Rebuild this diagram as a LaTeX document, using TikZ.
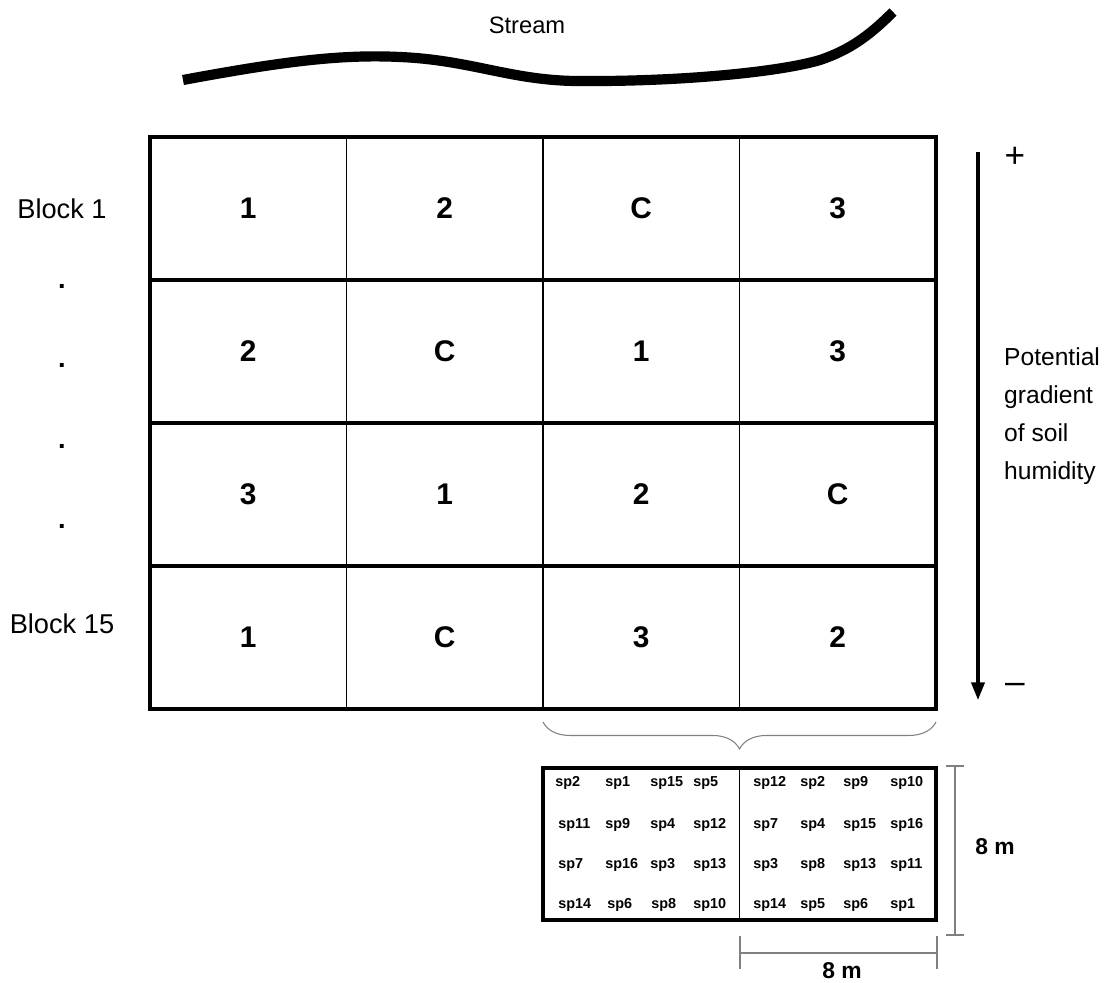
\documentclass[tikz,border=0pt]{standalone}
\usepackage{fontspec}
\setmainfont{Liberation Sans}
\usetikzlibrary{arrows.meta,decorations.pathreplacing}

\begin{document}
\begin{tikzpicture}[
x=0.02cm,
y=-0.02cm,
every node/.style={
font=\fontsize{15.5}{18}\selectfont
},
cell/.style={
draw,
line width=0.6pt,
outer sep=0pt,
minimum width=3.93cm,
minimum height=2.86cm,
font=\fontsize{17}{20}\selectfont\bfseries
},
sp/.style={
anchor=west,
inner sep=0pt,
font=\fontsize{8.2}{9}\selectfont\bfseries
},
scalebar/.style={draw=gray, line width=0.6pt},
sizelabel/.style={font=\fontsize{13}{15}\selectfont\bfseries}
]
\useasboundingbox (0,0) rectangle (1107,983);

% stream
\node (stream) [font=\fontsize{13.5}{16}\selectfont] at (527,25) {Stream};
\draw[line width=5.8pt] (183,80) .. controls (280,62) and (340,54) .. (400,57)
  .. controls (470,60) and (510,80) .. (575,81)
  .. controls (680,82) and (780,72) .. (820,60)
  .. controls (850,50) and (870,35) .. (893,12);

% blocks
\node (c11) [cell] at (248.25,208.5) {1};
\node (c12) [cell] at (444.75,208.5) {2};
\node (c13) [cell] at (641.25,208.5) {C};
\node (c14) [cell] at (837.75,208.5) {3};
\node (c21) [cell] at (248.25,351.5) {2};
\node (c22) [cell] at (444.75,351.5) {C};
\node (c23) [cell] at (641.25,351.5) {1};
\node (c24) [cell] at (837.75,351.5) {3};
\node (c31) [cell] at (248.25,494.5) {3};
\node (c32) [cell] at (444.75,494.5) {1};
\node (c33) [cell] at (641.25,494.5) {2};
\node (c34) [cell] at (837.75,494.5) {C};
\node (c41) [cell] at (248.25,637.5) {1};
\node (c42) [cell] at (444.75,637.5) {C};
\node (c43) [cell] at (641.25,637.5) {3};
\node (c44) [cell] at (837.75,637.5) {2};
\draw[line width=1.9pt] (c11.north west) rectangle (c44.south east);
\draw[line width=2.5pt] (c21.north west) -- (c24.north east);
\draw[line width=2.5pt] (c31.north west) -- (c34.north east);
\draw[line width=2.5pt] (c41.north west) -- (c44.north east);

\node (block1) at (62,209) {Block 1};
\node (dot1) at (62,286) {\bfseries .};
\node (dot2) at (62,365) {\bfseries .};
\node (dot3) at (62,446) {\bfseries .};
\node (dot4) at (62,526) {\bfseries .};
\node (block15) at (62,624) {Block 15};

% humidity gradient
\node (plus) at (1015,157) {\fontsize{20}{22}\selectfont +};
\node (minus) at (1015,688) {\fontsize{20}{22}\selectfont –};
\draw[line width=1.8pt, -{Triangle[length=10pt,width=7.5pt]}] (978,152) -- (978,700);
\node (gradient) [anchor=west, align=left, font=\fontsize{14}{21.5}\selectfont] at (998,416) {Potential\\gradient\\of soil\\humidity};

% subplot
\draw[draw=gray, line width=0.6pt, decorate, decoration={brace, amplitude=0.54cm}]
([yshift=-0.26cm]c44.south east) -- ([yshift=-0.26cm]c43.south west);
\node (subplot) [draw, line width=2pt, outer sep=0pt, minimum width=7.86cm, minimum height=3.04cm] at (739.5,844) {};
\draw[line width=0.8pt] (subplot.north) -- (subplot.south);

\node (p11) [sp] at (555,783) {sp2};
\node (p12) [sp] at (605,783) {sp1};
\node (p13) [sp] at (650,783) {sp15};
\node (p14) [sp] at (693,783) {sp5};
\node (p15) [sp] at (753,783) {sp12};
\node (p16) [sp] at (800,783) {sp2};
\node (p17) [sp] at (843,783) {sp9};
\node (p18) [sp] at (890,783) {sp10};
\node (p21) [sp] at (558,825) {sp11};
\node (p22) [sp] at (605,825) {sp9};
\node (p23) [sp] at (650,825) {sp4};
\node (p24) [sp] at (693,825) {sp12};
\node (p25) [sp] at (753,825) {sp7};
\node (p26) [sp] at (800,825) {sp4};
\node (p27) [sp] at (843,825) {sp15};
\node (p28) [sp] at (890,825) {sp16};
\node (p31) [sp] at (558,865) {sp7};
\node (p32) [sp] at (605,865) {sp16};
\node (p33) [sp] at (650,865) {sp3};
\node (p34) [sp] at (693,865) {sp13};
\node (p35) [sp] at (753,865) {sp3};
\node (p36) [sp] at (800,865) {sp8};
\node (p37) [sp] at (843,865) {sp13};
\node (p38) [sp] at (890,865) {sp11};
\node (p41) [sp] at (558,905) {sp14};
\node (p42) [sp] at (607,905) {sp6};
\node (p43) [sp] at (651,905) {sp8};
\node (p44) [sp] at (693,905) {sp10};
\node (p45) [sp] at (753,905) {sp14};
\node (p46) [sp] at (800,905) {sp5};
\node (p47) [sp] at (843,905) {sp6};
\node (p48) [sp] at (890,905) {sp1};

% scale bars
\draw[scalebar] (946,766) -- (964,766) (955,766) -- (955,935) (946,935) -- (964,935);
\draw[scalebar] (740,936) -- (740,969) (740,953) -- (937,953) (937,936) -- (937,969);
\node (vsize) [sizelabel] at (995,847) {8 m};
\node (hsize) [sizelabel] at (842,971) {8 m};
\end{tikzpicture}
\end{document}
